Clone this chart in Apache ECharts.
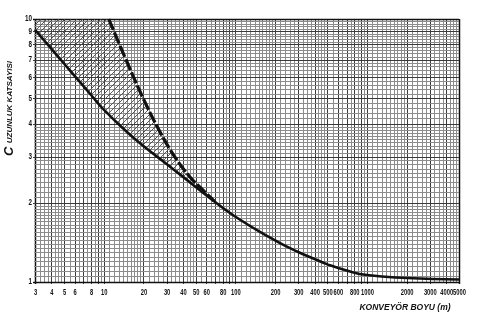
<!DOCTYPE html>
<html>
<head>
<meta charset="utf-8">
<script src="https://cdn.jsdelivr.net/npm/echarts@6/dist/echarts.min.js"></script>
<style>
  html, body { margin: 0; padding: 0; background: #fff; }
  #chart { width: 483px; height: 325px; }
</style>
</head>
<body>
<div id="chart"></div>
<script>
// Axis ranges (log-log paper)
const xMin = 3, xMax = 5000;
const yMin = 1, yMax = 10;

// Tick labels
const xTickLabels = [3, 4, 5, 6, 8, 10, 20, 30, 40, 50, 60, 80, 100, 200, 300, 400, 500, 600, 800, 1000, 2000, 3000, 4000, 5000];
const yTickLabels = [1, 2, 3, 4, 5, 6, 7, 8, 9, 10];

// Lower bound of the length coefficient C (solid curve): [length m, C]
const solidCurve = [
  [3, 9.1], [4, 7.7], [5, 6.76], [6, 6.08], [8, 5.14], [10, 4.52], [15, 3.72],
  [20, 3.29], [30, 2.81], [40, 2.51], [60, 2.14], [100, 1.77], [200, 1.44],
  [300, 1.30], [400, 1.223], [500, 1.167], [700, 1.106], [1000, 1.063],
  [2000, 1.036], [5000, 1.022]
];

// Upper bound for short conveyors (dashed curve)
const dashedCurve = [
  [10.9, 10], [14.4, 7.2], [19.7, 5.05], [26.5, 3.75], [34.5, 3.0],
  [44.8, 2.52], [58, 2.21], [69, 2.03]
];

// Ruling of the log paper: [from, to, step] within one decade
const xRuling = [[1, 2, 0.1], [2, 3, 0.2], [3, 5, 0.25], [5, 10, 0.5]];
const yRuling = [[1, 2, 0.05], [2, 4, 0.1], [4, 10, 0.2]];

const FONT = "'Liberation Sans', Arial, sans-serif";
const SQUEEZE = 0.64;   // condensed look of the printed figures

function ruledValues(ruling, lo, hi) {
  const out = [];
  const seen = {};
  for (let d = 1; d <= 10000; d *= 10) {
    ruling.forEach(([a, b, s]) => {
      const n = Math.round((b - a) / s);
      for (let i = 0; i <= n; i++) {
        const v = Math.round((a + i * s) * d * 1000) / 1000;
        if (v < lo - 1e-9 || v > hi + 1e-9 || seen[v]) continue;
        seen[v] = true;
        const r = v / d;
        const major = Math.abs(r - Math.round(r)) < 1e-9 ? 1 : 0;
        out.push([v, major]);
      }
    });
  }
  return out;
}

const xGrid = ruledValues(xRuling, xMin, xMax);
const yGrid = ruledValues(yRuling, yMin, yMax);

// Diagonal hatch tile for the band between the curves
function hatchTile() {
  const c = document.createElement('canvas');
  const s = 6;
  c.width = s; c.height = s;
  const g = c.getContext('2d');
  g.strokeStyle = '#4a4a4a';
  g.lineWidth = 0.9;
  g.beginPath();
  g.moveTo(-1, s + 1); g.lineTo(s + 1, -1);
  g.moveTo(-1, 1); g.lineTo(1, -1);
  g.moveTo(s - 1, s + 1); g.lineTo(s + 1, s - 1);
  g.stroke();
  return c;
}

const chart = echarts.init(document.getElementById('chart'), null, { renderer: 'canvas' });

const hiddenAxis = {
  axisLabel: { show: false },
  axisTick: { show: false },
  axisLine: { show: false },
  splitLine: { show: false }
};

const option = {
  animation: false,
  backgroundColor: '#ffffff',
  grid: { left: 35, right: 24, top: 19, bottom: 43 },
  xAxis: Object.assign({ type: 'log', logBase: 10, min: xMin, max: xMax }, hiddenAxis),
  yAxis: Object.assign({ type: 'log', logBase: 10, min: yMin, max: yMax }, hiddenAxis),
  graphic: [
    {
      type: 'text',
      x: 16, y: 156,
      rotation: Math.PI / 2,
      style: {
        text: '{c|C} {s|UZUNLUK KATSAYISI}',
        align: 'left',
        verticalAlign: 'bottom',
        rich: {
          c: { fontSize: 13, fontStyle: 'italic', fontWeight: 'bold', fontFamily: FONT, fill: '#111' },
          s: { fontSize: 8, fontStyle: 'italic', fontWeight: 'bold', fontFamily: FONT, fill: '#111' }
        }
      }
    },
    {
      type: 'text',
      x: 405, y: 308,
      style: {
        text: 'KONVEYÖR BOYU (m)',
        align: 'center',
        verticalAlign: 'middle',
        fontSize: 8.5, fontStyle: 'italic', fontWeight: 'bold', fontFamily: FONT, fill: '#111'
      }
    }
  ],
  series: [
    {
      // vertical rulings
      type: 'custom',
      silent: true,
      z: 1,
      data: xGrid.map(([v, m]) => [v, yMin, m]),
      renderItem: function (params, api) {
        const v = api.value(0);
        const major = api.value(2) === 1;
        const top = api.coord([v, yMax]);
        const bot = api.coord([v, yMin]);
        const x = Math.round(top[0]) + 0.5;
        const edge = v === xMin || v === xMax;
        return {
          type: 'line',
          shape: { x1: x, y1: top[1], x2: x, y2: bot[1] + (major ? 2 : 0) },
          style: { stroke: edge ? '#111' : (major ? '#3a3a3a' : '#8c8c8c'), lineWidth: edge ? 1.5 : 1 }
        };
      }
    },
    {
      // horizontal rulings
      type: 'custom',
      silent: true,
      z: 1,
      data: yGrid.map(([v, m]) => [xMin, v, m]),
      renderItem: function (params, api) {
        const v = api.value(1);
        const major = api.value(2) === 1;
        const l = api.coord([xMin, v]);
        const r = api.coord([xMax, v]);
        const y = Math.round(l[1]) + 0.5;
        const edge = v === yMin || v === yMax;
        return {
          type: 'line',
          shape: { x1: l[0] - (major ? 2 : 1), y1: y, x2: r[0], y2: y },
          style: { stroke: edge ? '#111' : (major ? '#3a3a3a' : '#8c8c8c'), lineWidth: edge ? 1.5 : 1 }
        };
      }
    },
    {
      // hatched band between the two curves
      type: 'custom',
      silent: true,
      z: 2,
      data: [[xMin, yMax]],
      renderItem: function (params, api) {
        const lastX = dashedCurve[dashedCurve.length - 1][0];
        const pts = [api.coord([xMin, yMax])];
        dashedCurve.forEach(p => pts.push(api.coord(p)));
        solidCurve.filter(p => p[0] < lastX).reverse().forEach(p => pts.push(api.coord(p)));
        return {
          type: 'polygon',
          shape: { points: pts },
          style: { fill: { image: hatchTile(), repeat: 'repeat' }, stroke: null }
        };
      }
    },
    {
      type: 'line',
      data: solidCurve,
      smooth: 0.5,
      symbol: 'none',
      silent: true,
      z: 4,
      lineStyle: { color: '#111', width: 2.6 }
    },
    {
      type: 'line',
      data: dashedCurve,
      smooth: 0.4,
      symbol: 'none',
      silent: true,
      z: 5,
      lineStyle: { color: '#111', width: 3.2, type: [12, 2.5] }
    },
    {
      // x tick labels
      type: 'custom',
      silent: true,
      z: 6,
      data: xTickLabels.map(v => [v, yMin]),
      renderItem: function (params, api) {
        const v = api.value(0);
        const p = api.coord([v, yMin]);
        return {
          type: 'text',
          x: p[0] + 0.5, y: p[1] + 11,
          scaleX: SQUEEZE,
          style: {
            text: String(v), align: 'center', verticalAlign: 'middle',
            fontSize: 9, fontWeight: 'bold', fontFamily: FONT, fill: '#111'
          }
        };
      }
    },
    {
      // y tick labels
      type: 'custom',
      silent: true,
      z: 6,
      data: yTickLabels.map(v => [xMin, v]),
      renderItem: function (params, api) {
        const v = api.value(1);
        const p = api.coord([xMin, v]);
        return {
          type: 'text',
          x: p[0] - 3, y: p[1],
          scaleX: 0.7,
          style: {
            text: String(v), align: 'right', verticalAlign: 'middle',
            fontSize: 9, fontWeight: 'bold', fontFamily: FONT, fill: '#111'
          }
        };
      }
    }
  ]
};

chart.setOption(option);
</script>
</body>
</html>
